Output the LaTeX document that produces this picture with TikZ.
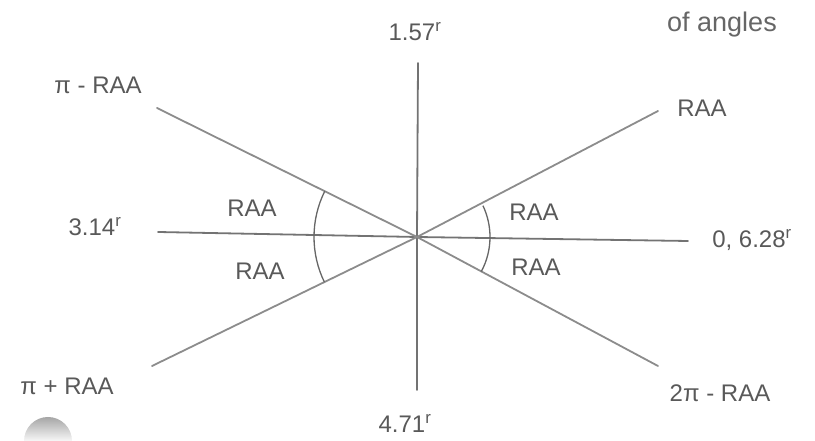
\documentclass[tikz,border=0pt]{standalone}
\usepackage{fontspec}
\setmainfont{Liberation Sans}
\begin{document}
\begin{tikzpicture}[x=1pt,y=1pt,
  axis/.style={draw=black!55, line width=1.8pt, line cap=round},
  anglearc/.style={draw=black!60, line width=1.3pt},
  lbl/.style={text=black!65, font=\fontsize{24}{28}\selectfont, inner sep=0pt},
  note/.style={text=black!60, font=\fontsize{27}{31}\selectfont, inner sep=0pt}]
\useasboundingbox (0,0) rectangle (815,441);
% points
\coordinate (O) at (417,204);
\coordinate (H1) at (158,209);
\coordinate (H2) at (688,200);
\coordinate (V1) at (418,378);
\coordinate (V2) at (417,51);
\coordinate (UL) at (157,333);
\coordinate (LR) at (658,75);
\coordinate (LL) at (152,75);
\coordinate (UR) at (658,330);
% axes
\draw[axis] (H1) -- (O) -- (H2);
\draw[axis] (V1) -- (O) -- (V2);
\draw[axis, draw=black!45] (UL) -- (O) -- (LR);
\draw[axis, draw=black!45] (LL) -- (O) -- (UR);
% angle arcs
\draw[anglearc] (O) ++(153.6:103) arc[start angle=153.6, end angle=180, radius=103];
\draw[anglearc] (O) ++(180:103) arc[start angle=180, end angle=206, radius=103];
\draw[anglearc] (O) ++(25.4:73) arc[start angle=25.4, end angle=0, radius=73];
\draw[anglearc] (O) ++(0:73) arc[start angle=0, end angle=-28.2, radius=73];
% labels
\node[lbl] (t157) at (415,409) {1.57\textsuperscript{r}};
\node[note] (tang) at (722,416) {of angles};
\node[lbl] (tpiminus) at (98,356) {π - RAA};
\node[lbl] (tur) at (702,333) {RAA};
\node[lbl] (t314) at (95,214) {3.14\textsuperscript{r}};
\node[lbl] (t628) at (752,201) {0, 6.28\textsuperscript{r}};
\node[lbl] (tl1) at (252,233) {RAA};
\node[lbl] (tl2) at (260,170) {RAA};
\node[lbl] (tr1) at (534,229) {RAA};
\node[lbl] (tr2) at (536,174) {RAA};
\node[lbl] (tpiplus) at (67,55) {π + RAA};
\node[lbl] (t471) at (405,18) {4.71\textsuperscript{r}};
\node[lbl] (t2pi) at (720,48) {2π - RAA};
% hole punch
\shade[top color=black!35, bottom color=black!3] (24,0) arc[start angle=180, end angle=0, radius=24] -- cycle;
\end{tikzpicture}
\end{document}
